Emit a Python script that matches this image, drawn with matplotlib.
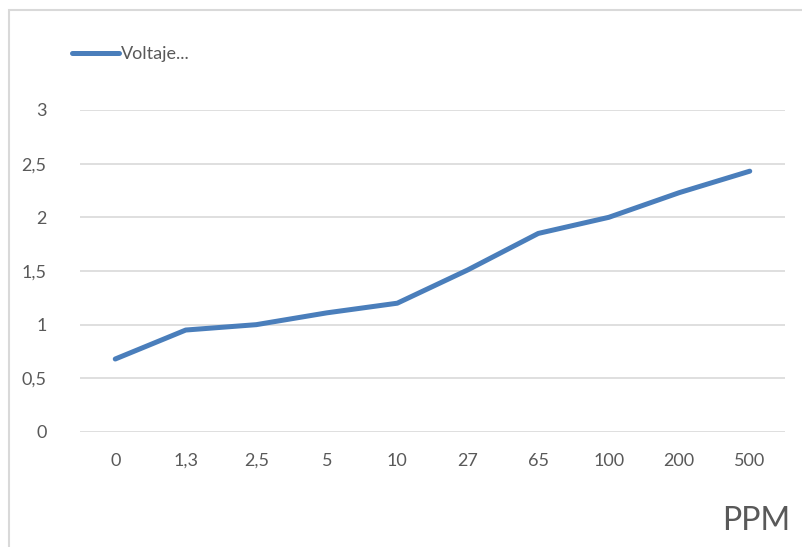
import matplotlib.pyplot as plt
from matplotlib.patches import Rectangle

# data
ppm_labels = ["0", "1,3", "2,5", "5", "10", "27", "65", "100", "200", "500"]
voltaje = [0.68, 0.95, 1.00, 1.11, 1.20, 1.51, 1.85, 2.00, 2.23, 2.43]
y_ticks = [0, 0.5, 1, 1.5, 2, 2.5, 3]
y_tick_labels = ["0", "0,5", "1", "1,5", "2", "2,5", "3"]

text_color = "#595959"
grid_color = "#d9d9d9"
line_color = "#4a7ebb"

plt.rcParams["font.family"] = ["Lato", "DejaVu Sans"]

fig = plt.figure(figsize=(8.03, 5.47), dpi=100)
ax = fig.add_axes([80 / 803, 1 - 432 / 547, 705 / 803, 322 / 547])

x = list(range(len(ppm_labels)))
line, = ax.plot(x, voltaje, color=line_color, linewidth=3.6,
                solid_capstyle="round", solid_joinstyle="round",
                label="Voltaje...")

ax.set_xlim(-0.5, len(ppm_labels) - 0.5)
ax.set_ylim(0, 3)
ax.set_yticks(y_ticks)
ax.set_yticklabels(y_tick_labels)
ax.set_xticks(x)
ax.set_xticklabels(ppm_labels)
ax.tick_params(axis="both", length=0, labelsize=13, colors=text_color)
ax.tick_params(axis="x", pad=15)
ax.tick_params(axis="y", pad=24)
ax.grid(axis="y", color=grid_color, linewidth=1.2)
ax.set_axisbelow(True)
for s in ax.spines.values():
    s.set_visible(False)

# outer chart border (cropped on the right and bottom like the original)
fig.patches.append(Rectangle((9 / 803, -0.1), 1.2, 1 - 10 / 547 + 0.1,
                             transform=fig.transFigure, fill=False,
                             edgecolor=grid_color, linewidth=1.5))

fig.text(790 / 803, 1 - 521 / 547, "PPM", ha="right", va="center",
         fontsize=23, color=text_color)

leg = fig.legend(handles=[line], loc="center left",
                 bbox_to_anchor=(56 / 803, 1 - 54 / 547), frameon=False,
                 fontsize=13, handlelength=2.6, handletextpad=0.1,
                 labelcolor=text_color)

fig.savefig("out.png", dpi=100)
